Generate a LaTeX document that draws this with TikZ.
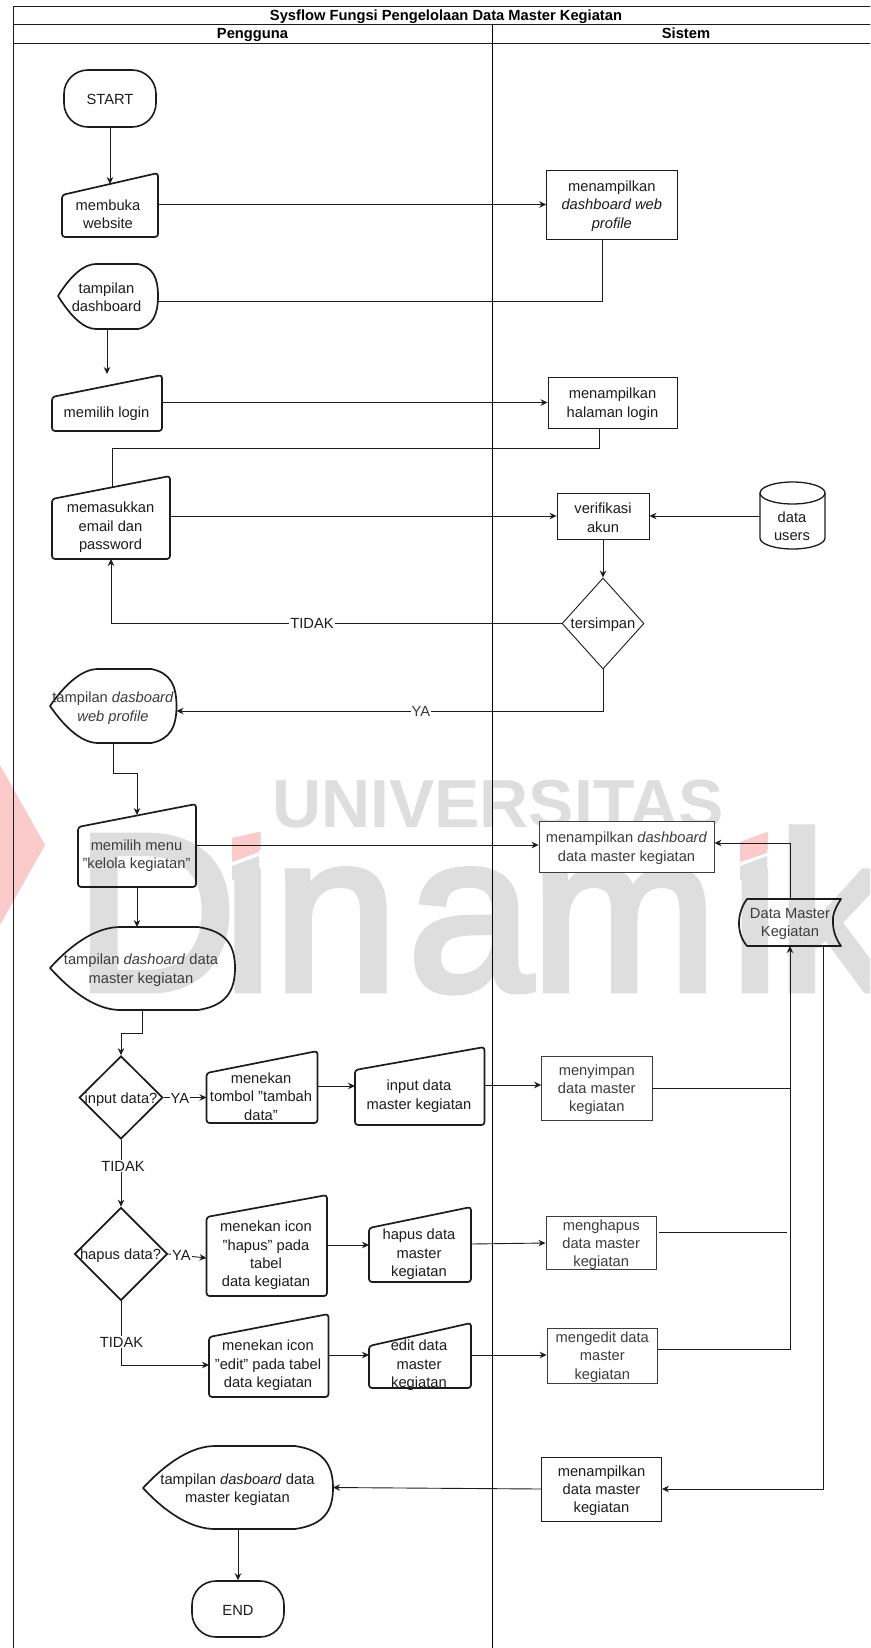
\documentclass[tikz,border=0pt]{standalone}
\usepackage{fontspec}
\setmainfont{Liberation Sans}
\newfontfamily\wmfont[FakeBold=3]{Liberation Sans}
\usetikzlibrary{arrows.meta,shapes.geometric,fit}
\definecolor{wmgray}{HTML}{DEDEDE}
\definecolor{wmred}{HTML}{FBCBCB}
\definecolor{ink}{HTML}{1C1C1C}
\definecolor{dim}{HTML}{3C3C3C}
\newcommand{\st}{\rule{0pt}{14pt}}
\newcommand{\stcap}{\rule{0pt}{12pt}}
\tikzset{
  conn/.style={line width=0.9pt,draw=ink,-{Stealth[length=7pt,width=6.5pt]}},
  plainconn/.style={line width=0.9pt,draw=ink},
  heavy/.style={line width=1.7pt,draw=ink,line join=round},
  sysbox/.style={draw=ink,line width=0.9pt,rectangle,inner sep=0pt,align=center,font=\fontsize{14.7}{18.4}\selectfont,text=ink},
  termbox/.style={draw=ink,line width=1.6pt,rectangle,rounded corners=24pt,inner sep=0pt,font=\fontsize{14.7}{18.4}\selectfont,text=ink},
  txt/.style={inner sep=0pt,yshift=-1.5pt,align=center,font=\fontsize{14.7}{18.4}\selectfont,text=ink},
  lab/.style={inner sep=1pt,fill=white,font=\fontsize{14.7}{18.4}\selectfont,text=ink},
  head/.style={inner sep=0pt,anchor=base,font=\fontsize{14.7}{16}\selectfont\bfseries,text=black},
  ghost/.style={inner sep=0pt,outer sep=0pt},
  decide/.style={diamond,draw=ink,inner sep=0pt,aspect=1},
}
\newcommand{\shpManual}[6]{%
  \draw[heavy,rounded corners=3pt] (#2,#5) -- (#3,#4) -- (#3,#6) -- (#2,#6) -- cycle;
  \node[ghost,fit={(#2,#4)(#3,#6)}] (#1) {};}
\newcommand{\shpDisplay}[6]{%
  \pgfmathsetmacro{\dw}{#3-#2}\pgfmathsetmacro{\dh}{#6-#4}
  \pgfmathsetmacro{\xa}{#2+.38*\dw}\pgfmathsetmacro{\xb}{#2+.8*\dw}
  \pgfmathsetmacro{\ca}{#2+.13*\dw}\pgfmathsetmacro{\cb}{#2+.26*\dw}
  \pgfmathsetmacro{\cc}{#3-.05*\dw}
  \draw[heavy] (#2,#5)
    .. controls (\ca,#5-.32*\dh) and (\cb,#4) .. (\xa,#4) -- (\xb,#4)
    .. controls (\cc,#4+.05*\dh) and (#3,#5-.28*\dh) .. (#3,#5)
    .. controls (#3,#5+.28*\dh) and (\cc,#6-.05*\dh) .. (\xb,#6) -- (\xa,#6)
    .. controls (\cb,#6) and (\ca,#5+.32*\dh) .. (#2,#5) -- cycle;
  \node[ghost,fit={(#2,#4)(#3,#6)}] (#1) {};}
\begin{document}
\begin{tikzpicture}[x=1pt,y=-1pt]
\clip (0,0) rectangle (870,1648);
\fill[white] (0,0) rectangle (870,1648);
% watermark
\fill[wmred] (0,765) -- (45,845) -- (0,925) -- cycle;
\node[ghost,anchor=base west,text=wmgray,font=\fontsize{68}{68}\selectfont\bfseries] (wmA) at (272,827) {UNIVERSITAS};
\node[ghost,anchor=base west,text=wmgray,font=\fontsize{224}{224}\wmfont] (wmB) at (75,990) {D\kern-14pt i\kern1pt n\kern10pt a\kern-2pt m\kern13pt i\kern-3pt k};
\fill[white] (225,822) -- (265,822) -- (265,832) -- (259,832) -- (232,838) -- (225,838) -- cycle;
\fill[white] (733,822) -- (775,822) -- (775,832) -- (767,832) -- (740,842) -- (733,842) -- cycle;
\fill[wmgray] (232,866) -- (259,856) -- (259,880) -- (232,880) -- cycle;
\fill[wmgray] (740,866) -- (767,856) -- (767,880) -- (740,880) -- cycle;
\fill[wmred] (232,838) -- (259,832) -- (259,852) -- (232,862) -- cycle;
\fill[wmred] (740,842) -- (767,832) -- (767,853) -- (740,862) -- cycle;
% frame
\draw[line width=0.9pt,draw=ink] (13.3,6.5) rectangle (900,1700);
\draw[line width=0.9pt,draw=ink] (13.3,24.7) -- (900,24.7);
\draw[line width=0.9pt,draw=ink] (13.3,43) -- (900,43);
\draw[line width=0.9pt,draw=black] (492.8,24.7) -- (492.8,1700);
\node[head] (title) at (446,21) {Sysflow Fungsi Pengelolaan Data Master Kegiatan};
\node[head] (hP) at (252.5,39) {Pengguna};
\node[head] (hS) at (686,39) {Sistem};
% user shapes
\node[termbox,minimum width=92pt,minimum height=57pt] (start) at (110,98.5) {\stcap START};
\shpManual{mb}{62}{158}{173}{195}{237}
\node[txt] (mbT) at (108,213) {membuka\\website};
\shpDisplay{dA}{58}{158}{264}{296}{329}
\node[txt] (dAT) at (106.5,296) {tampilan\\dashboard};
\shpManual{login}{52}{162}{375}{397}{431}
\node[txt] (loginT) at (106.5,412) {memilih login};
\shpManual{email}{52}{170}{476}{499}{559}
\node[txt] (emailT) at (110.5,526) {memasukkan\\email dan\\password};
\shpDisplay{dB}{50}{176.5}{669}{706}{743}
\node[txt,text=dim] (dBT) at (113,706.5) {tampilan \textit{dasboard}\\\textit{web profile}};
\shpManual{menu}{78}{196}{804}{827}{887}
\node[txt,text=dim] (menuT) at (136.5,854) {memilih menu\\"kelola kegiatan"};
\shpDisplay{dC}{50}{235}{927}{968}{1010}
\node[txt,text=dim] (dCT) at (141,968.5) {tampilan \textit{dashoard} data\\master kegiatan};
\node[decide,line width=1.7pt,minimum width=83.6pt,minimum height=83pt] (inp) at (121,1097.5) {};
\node[txt] (inpT) at (121,1098) {input data?};
\shpManual{tombol}{206.5}{317.5}{1051}{1073}{1123}
\node[txt] (tombolT) at (261,1095) {menekan\\tombol "tambah\\data"};
\shpManual{inD}{355}{484.5}{1047}{1070}{1125}
\node[txt] (inDT) at (419,1094.5) {input data\\master kegiatan};
\node[decide,line width=1.7pt,minimum width=93pt,minimum height=93pt] (hap) at (121,1254) {};
\node[txt] (hapT) at (120.5,1254) {hapus data?};
\shpManual{icoH}{206.5}{327}{1195}{1217}{1296}
\node[txt] (icoHT) at (266,1254) {menekan icon\\"hapus" pada\\tabel\\data kegiatan};
\shpManual{hapD}{369}{471}{1207}{1228}{1282}
\node[txt] (hapDT) at (419,1253) {hapus data\\master\\kegiatan};
\shpManual{icoE}{209}{328.5}{1314}{1337}{1397}
\node[txt] (icoET) at (268,1364) {menekan icon\\"edit" pada tabel\\data kegiatan};
\shpManual{edD}{369}{471}{1323}{1346}{1388}
\node[txt] (edDT) at (419,1364) {edit data\\master\\kegiatan};
\shpDisplay{dE}{143}{333}{1446}{1488}{1529}
\node[txt] (dET) at (237.5,1488) {tampilan \textit{dasboard} data\\master kegiatan};
\node[termbox,minimum width=92pt,minimum height=56pt] (endN) at (238,1609) {\stcap END};
% system shapes
\node[sysbox,minimum width=130.4pt,minimum height=69pt] (bA) at (611.8,204.5) {\st menampilkan\\\textit{dashboard web}\\\textit{profile}};
\node[sysbox,minimum width=129pt,minimum height=51pt] (bB) at (612.5,402.5) {\st menampilkan\\halaman login};
\node[sysbox,minimum width=92pt,minimum height=46pt] (bC) at (603,516) {\st verifikasi\\akun};
\node[decide,line width=0.9pt,minimum width=82pt,minimum height=91pt] (sim) at (603,623.5) {};
\node[txt] (simT) at (603,623) {tersimpan};
\draw[line width=1.3pt,draw=ink] (760,493) arc[start angle=180,end angle=360,x radius=32.5,y radius=-11] ;
\draw[line width=1.3pt,draw=ink] (760,493) arc[start angle=180,end angle=0,x radius=32.5,y radius=-11] -- (825,538)
   arc[start angle=0,end angle=-180,x radius=32.5,y radius=-11] -- cycle;
\node[ghost,fit={(760,482)(825,549)}] (cyl) {};
\node[txt] (cylT) at (792,524.5) {data\\users};
\node[sysbox,fill=white,text=dim,draw=dim,minimum width=175pt,minimum height=51pt] (bD) at (626.5,846.5) {\st menampilkan \textit{dashboard}\\data master kegiatan};
\draw[heavy] (747,899) -- (841,899) .. controls (835,908) and (832,916) .. (833,923) .. controls (833,931) and (836,939) .. (841,946)
   -- (747,946) .. controls (741,939) and (739,931) .. (739,923) .. controls (739,914) and (742,906) .. (747,899) -- cycle;
\node[ghost,fit={(739,899)(841,946)}] (dm) {};
\node[txt,text=dim] (dmT) at (790,922.5) {Data Master\\Kegiatan};
\node[sysbox,text=dim,draw=dim,minimum width=110.4pt,minimum height=64pt] (bE) at (596.8,1088) {\st menyimpan\\data master\\kegiatan};
\node[sysbox,text=dim,draw=dim,minimum width=110.5pt,minimum height=52pt] (bF) at (601.2,1243) {\st menghapus\\data master\\kegiatan};
\node[sysbox,text=dim,draw=dim,minimum width=110.6pt,minimum height=55pt] (bG) at (602.3,1355.5) {\st mengedit data\\master\\kegiatan};
\node[sysbox,minimum width=120pt,minimum height=64pt] (bH) at (601.5,1489) {\st menampilkan\\data master\\kegiatan};
% free ends
\coordinate (jA) at (787,1232);
% connectors
\draw[conn] (start.south) -- (mb.center |- 0,184);
\draw[conn] (mb.east |- bA.west) -- (bA.west);
\draw[plainconn] ([xshift=-9pt]bA.south) |- (dA.east |- 0,301);
\draw[conn] (login.center |- dA.south) -- (login.center |- 0,374);
\draw[conn] (login.east |- bB.west) -- (bB.west);
\draw[plainconn] ([xshift=-13.5pt]bB.south) |- (112,448) -- (112,487) -- (email.center |- 0,487);
\draw[conn] (email.east |- bC.west) -- (bC.west);
\draw[conn] (cyl.west |- bC.east) -- (bC.east);
\draw[conn] (bC.south) -- (sim.north);
\draw[conn] (sim.west) -| (email.south);
\draw[conn] (sim.south) |- (dB.east |- 0,711);
\draw[conn] (dB.south) |- (menu.north |- 0,773) -- (menu.center |- 0,815);
\draw[conn] (menu.east |- 0,845) -- (bD.west |- 0,845);
\draw[conn] (dm.north) |- (bD.east |- 0,843);
\draw[conn] (menu.center |- menu.south) -- (menu.center |- dC.north);
\draw[conn] ([xshift=-0.5pt]dC.south) |- (inp.north |- 0,1033) -- (inp.north);
\draw[conn] (inp.east) -- (tombol.west |- inp.east);
\draw[conn] (tombol.east |- 0,1086) -- (inD.west |- 0,1086);
\draw[conn] (inD.east |- 0,1085) -- (bE.west |- 0,1085);
\draw[conn] (inp.south) -- (hap.north);
\draw[conn] (hap.east) -- (icoH.west |- 0,1258);
\draw[conn] (icoH.east |- 0,1245) -- (hapD.west |- 0,1245);
\draw[conn] (hapD.east |- 0,1244) -- (bF.west);
\draw[plainconn] (bF.east |- jA) ++(2,0) -- (jA);
\draw[conn] (hap.south) |- (icoE.west |- 0,1365);
\draw[conn] (icoE.east |- 0,1355) -- (edD.west |- 0,1355);
\draw[conn] (edD.east |- 0,1355) -- (bG.west |- 0,1355);
\draw[conn] (bE.east) -| (dm.south);
\draw[plainconn] (bG.east |- 0,1349) -| ([yshift=-142pt]dm.south);
\draw[conn] ([xshift=33.5pt]dm.south) |- (bH.east);
\draw[conn] (bH.west) -- (dE.east);
\draw[conn] (dE.south -| 238,0) -- (endN.north);
% connector labels
\node[lab] (l1) at (312,623) {TIDAK};
\node[lab,text=dim] (l2) at (421,711) {YA};
\node[lab] (l3) at (180,1098) {YA};
\node[lab] (l4) at (123,1166) {TIDAK};
\node[lab] (l5) at (181.5,1255) {YA};
\node[lab] (l6) at (121.5,1342) {TIDAK};
\end{tikzpicture}
\end{document}
